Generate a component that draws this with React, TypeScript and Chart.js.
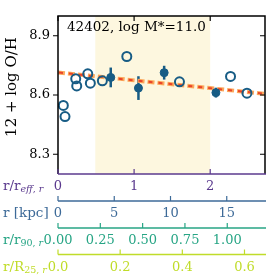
import { useEffect, useRef } from "react";
import { Chart, registerables } from "chart.js";
Chart.register(...registerables);

// ---------- data ----------
const openR = [0.07, 0.092, 0.233, 0.246, 0.391, 0.425, 0.583, 0.904, 1.596, 2.267, 2.483];
const openOH = [8.547, 8.491, 8.682, 8.646, 8.707, 8.66, 8.672, 8.795, 8.667, 8.694, 8.609];
const filledR = [0.693, 1.057, 1.395, 2.075];
const filledOH = [8.689, 8.635, 8.713, 8.612];
const filledErr = [0.05, 0.06, 0.035, 0.025];
const fitR = [0, 2.72];
const fitOH = [8.714, 8.606];
const shadeR = [0.49, 2.0];

const yTicks = [8.3, 8.6, 8.9];
const yLabels = ["8.3", "8.6", "8.9"];
const reffTicks = [0, 1, 2];
const reffLabels = ["0", "1", "2"];
const kpcTicks = [0, 5, 10, 15];
const kpcLabels = ["0", "5", "10", "15"];
const r90Ticks = [0, 0.25, 0.5, 0.75, 1.0];
const r90Labels = ["0.00", "0.25", "0.50", "0.75", "1.00"];
const r25Ticks = [0, 0.2, 0.4, 0.6];
const r25Labels = ["0.0", "0.2", "0.4", "0.6"];

const titleText = "42402, log M*=11.0";
const yTitle = "12 + log O/H";

// ---------- style ----------
const FONT = "'DejaVu Serif', serif";
const MARK = "#175c85";
const PURPLE = "#5b3a8e";
const BLUE = "#3d6a98";
const GREEN = "#27a585";
const YGREEN = "#c0dc2a";
const SHADE = "#fdf7df";

type Seg = { t: string; it: boolean };
const axisTitles: { id: string; color: string; main: string; sub: Seg[] }[] = [
  { id: "x", color: PURPLE, main: "r/r", sub: [{ t: "eff", it: true }, { t: ", ", it: false }, { t: "r", it: true }] },
  { id: "xk", color: BLUE, main: "r [kpc]", sub: [] },
  { id: "x90", color: GREEN, main: "r/r", sub: [{ t: "90, ", it: false }, { t: "r", it: true }] },
  { id: "x25", color: YGREEN, main: "r/R", sub: [{ t: "25, ", it: false }, { t: "r", it: true }] },
];

function xScale(min: number, max: number, ticks: number[], labels: string[], color: string, h: number) {
  return {
    type: "linear" as const,
    position: "bottom" as const,
    min,
    max,
    afterBuildTicks: (s: any) => {
      s.ticks = ticks.map((v) => ({ value: v }));
    },
    afterFit: (s: any) => {
      s.height = h;
    },
    grid: { display: false, drawTicks: false },
    border: { display: false },
    ticks: {
      color,
      font: { family: FONT, size: 13 },
      padding: 5,
      autoSkip: false,
      maxRotation: 0,
      minRotation: 0,
      callback: (_v: any, i: number) => labels[i],
    },
  };
}

const deco = {
  id: "deco",
  beforeDatasetsDraw(chart: any) {
    const { ctx, chartArea: a, scales } = chart;
    const x = scales.x;
    const y = scales.y;
    ctx.save();
    ctx.fillStyle = SHADE;
    const x0 = x.getPixelForValue(shadeR[0]);
    const x1 = x.getPixelForValue(shadeR[1]);
    ctx.fillRect(x0, a.top, x1 - x0, a.bottom - a.top);
    ctx.strokeStyle = MARK;
    ctx.lineWidth = 2.5;
    filledR.forEach((r, i) => {
      const px = x.getPixelForValue(r);
      ctx.beginPath();
      ctx.moveTo(px, y.getPixelForValue(filledOH[i] - filledErr[i]));
      ctx.lineTo(px, y.getPixelForValue(filledOH[i] + filledErr[i]));
      ctx.stroke();
    });
    ctx.restore();
  },
  afterDraw(chart: any) {
    const { ctx, chartArea: a, scales } = chart;
    const x = scales.x;
    const y = scales.y;
    ctx.save();
    ctx.lineWidth = 1.5;
    // frame
    ctx.strokeStyle = "#000";
    ctx.beginPath();
    ctx.moveTo(a.left, a.bottom);
    ctx.lineTo(a.left, a.top);
    ctx.lineTo(a.right, a.top);
    ctx.lineTo(a.right, a.bottom);
    ctx.stroke();
    // y ticks
    ctx.lineWidth = 1.2;
    yTicks.forEach((v) => {
      const py = y.getPixelForValue(v);
      ctx.beginPath();
      ctx.moveTo(a.left - 5, py);
      ctx.lineTo(a.left, py);
      ctx.moveTo(a.right - 5, py);
      ctx.lineTo(a.right, py);
      ctx.stroke();
    });
    // top ticks
    reffTicks.forEach((v) => {
      const px = x.getPixelForValue(v);
      ctx.beginPath();
      ctx.moveTo(px, a.top);
      ctx.lineTo(px, a.top + 5);
      ctx.stroke();
    });
    // bottom axes
    const axTicks: Record<string, number[]> = { x: reffTicks, xk: kpcTicks, x90: r90Ticks, x25: r25Ticks };
    axisTitles.forEach((t) => {
      const s = scales[t.id];
      const top = t.id === "x" ? a.bottom : s.top;
      ctx.strokeStyle = t.color;
      ctx.lineWidth = 1.5;
      ctx.beginPath();
      ctx.moveTo(a.left, top);
      ctx.lineTo(a.right + 1, top);
      ctx.stroke();
      ctx.lineWidth = 1.2;
      axTicks[t.id].forEach((v) => {
        const px = s.getPixelForValue(v);
        ctx.beginPath();
        ctx.moveTo(px, top);
        ctx.lineTo(px, top - 5);
        ctx.stroke();
      });
      // axis title
      const cy = top + 12.5;
      ctx.fillStyle = t.color;
      ctx.textBaseline = "middle";
      ctx.textAlign = "left";
      ctx.font = `13.5px ${FONT}`;
      let cx = 3;
      ctx.fillText(t.main, cx, cy);
      cx += ctx.measureText(t.main).width;
      t.sub.forEach((sg) => {
        ctx.font = `${sg.it ? "italic " : ""}9.5px ${FONT}`;
        ctx.fillText(sg.t, cx, cy + 3.5);
        cx += ctx.measureText(sg.t).width;
      });
    });
    // y title
    ctx.fillStyle = "#000";
    ctx.font = `15px ${FONT}`;
    ctx.textAlign = "center";
    ctx.textBaseline = "middle";
    ctx.save();
    ctx.translate(12.5, 87);
    ctx.rotate(-Math.PI / 2);
    ctx.fillText(yTitle, 0, 0);
    ctx.restore();
    // inner title
    ctx.font = `13.5px ${FONT}`;
    ctx.textAlign = "left";
    ctx.fillText(titleText, 67, 27.5);
    ctx.restore();
  },
};

export default function App() {
  const ref = useRef<HTMLCanvasElement | null>(null);
  useEffect(() => {
    document.body.style.margin = "0";
    const canvas = ref.current!;
    const chart = new Chart(canvas, {
      type: "scatter",
      data: {
        datasets: [
          {
            data: filledR.map((r, i) => ({ x: r, y: filledOH[i] })),
            pointRadius: 4,
            pointBackgroundColor: MARK,
            pointBorderColor: MARK,
            pointBorderWidth: 1,
            xAxisID: "x",
            yAxisID: "y",
          },
          {
            data: openR.map((r, i) => ({ x: r, y: openOH[i] })),
            pointRadius: 4.5,
            pointBackgroundColor: "rgba(0,0,0,0)",
            pointBorderColor: MARK,
            pointBorderWidth: 2,
            xAxisID: "x",
            yAxisID: "y",
          },
          {
            type: "line" as const,
            data: fitR.map((r, i) => ({ x: r, y: fitOH[i] })),
            borderColor: "#e8432b",
            borderWidth: 2,
            borderDash: [4, 6],
            borderDashOffset: -1,
            pointRadius: 0,
            fill: false,
            xAxisID: "x",
            yAxisID: "y",
          },
          {
            type: "line" as const,
            data: fitR.map((r, i) => ({ x: r, y: fitOH[i] })),
            borderColor: "#fca85a",
            borderWidth: 4,
            borderDash: [7, 3],
            pointRadius: 0,
            fill: false,
            xAxisID: "x",
            yAxisID: "y",
          },
        ],
      },
      options: {
        animation: false,
        responsive: false,
        maintainAspectRatio: false,
        layout: { padding: { top: 16, right: 12, left: 0, bottom: 0 } },
        plugins: { legend: { display: false }, tooltip: { enabled: false } },
        scales: {
          x: xScale(0, 2.72, reffTicks, reffLabels, PURPLE, 27),
          xk: xScale(0, 18.4, kpcTicks, kpcLabels, BLUE, 27),
          x90: xScale(0, 1.223, r90Ticks, r90Labels, GREEN, 26.5),
          x25: xScale(0, 0.666, r25Ticks, r25Labels, YGREEN, 22.5),
          y: {
            type: "linear",
            position: "left",
            min: 8.2,
            max: 9.0,
            afterBuildTicks: (s: any) => {
              s.ticks = yTicks.map((v) => ({ value: v }));
            },
            afterFit: (s: any) => {
              s.width = 58;
            },
            grid: { display: false, drawTicks: false },
            border: { display: false },
            ticks: {
              color: "#000",
              font: { family: FONT, size: 13 },
              padding: 8,
              callback: (_v: any, i: number) => yLabels[i],
            },
          },
        },
      },
      plugins: [deco],
    });
    return () => chart.destroy();
  }, []);
  return (
    <div style={{ width: 277, height: 277 }}>
      <canvas ref={ref} width={277} height={277} style={{ display: "block" }} />
    </div>
  );
}
